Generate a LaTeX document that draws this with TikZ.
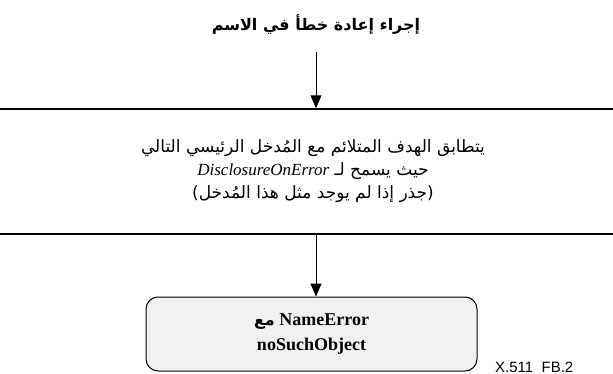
\documentclass[tikz,border=0pt]{standalone}
\usepackage{fontspec}
\setmainfont{Liberation Serif}
\newfontfamily\arabicfont[Script=Arabic]{DejaVu Sans}
\newfontfamily\tagfont{Liberation Sans}
\TeXXeTstate=1
\usetikzlibrary{arrows.meta}
\definecolor{Pale}{HTML}{F0F1F3}

\begin{document}
\begin{tikzpicture}[x=1pt,y=-1pt,
    flow/.style={-{Triangle[length=13pt,width=11pt]},line width=1pt},
    arabic/.style={font=\arabicfont\fontsize{17}{23}\selectfont}]
  \useasboundingbox (0,0) rectangle (613,374);
  \clip (0,0) rectangle (613,374);

  \node[font=\arabicfont\bfseries\fontsize{16}{18}\selectfont] (title) at (316,25)
    {\beginR إجراء إعادة خطأ في الاسم\endR};

  \node[draw,line width=1.4pt,minimum width=680pt,minimum height=125pt,
        arabic,align=center] (match) at (313,171.5)
    {\beginR يتطابق الهدف المتلائم مع المُدخل الرئيسي التالي\endR\\
     \beginR حيث يسمح لـ {\rmfamily\itshape\fontsize{17}{23}\selectfont DisclosureOnError}\endR\\
     \beginR(جذر إذا لم يوجد مثل هذا المُدخل)\endR};

  \node[draw,line width=1pt,rounded corners=12pt,fill=Pale,minimum width=331pt,minimum height=74pt,
        align=center,font=\bfseries\fontsize{18}{25}\selectfont] (result) at (311.5,334)
    {\beginR NameError {\arabicfont\fontsize{16}{18}\selectfont مع}\endR\\noSuchObject};

  \node[font=\tagfont\fontsize{15}{17}\selectfont,anchor=base west,inner sep=0pt] (tag) at (495,372) {X.511\ \ FB.2};

  \draw[flow] ([yshift=-14pt]title.south) -- (title.south |- match.north);
  \draw[flow] (title.south |- match.south) -- (title.south |- result.north);
\end{tikzpicture}
\end{document}
